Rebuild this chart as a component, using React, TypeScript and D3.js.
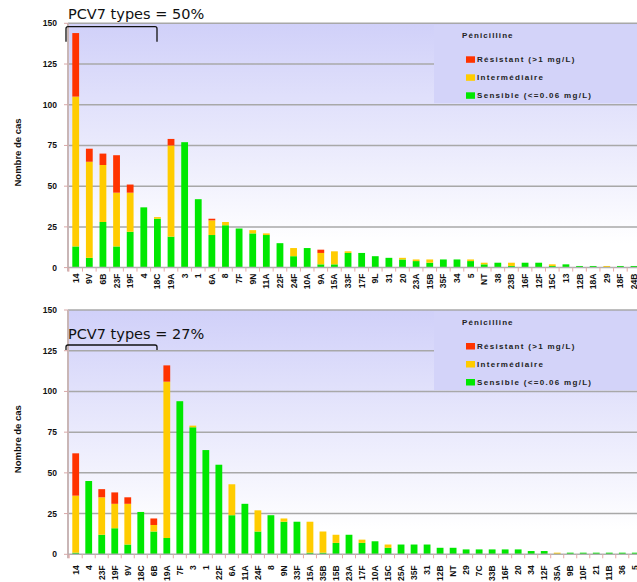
import * as d3 from 'd3';

// serotypes, 1st period
const topCats = ['14', '9V', '6B', '23F', '19F', '4', '18C', '19A', '3', '1', '6A', '8', '7F', '9N', '11A', '22F', '24F', '10A', '9A', '15A', '33F', '17F', '9L', '31', '20', '23A', '15B', '35F', '34', '5', 'NT', '38', '23B', '16F', '12F', '15C', '13', '12B', '18A', '29', '18F', '24B'];
const topSens = [13, 6, 28, 13, 22, 37, 30, 19, 77, 42, 20, 26, 24, 21, 20, 15, 7, 12, 2, 2, 9, 9, 7, 6, 5, 4, 3, 5, 5, 4, 2, 3, 1, 3, 3, 1, 2, 1, 1, 0, 1, 1];
const topInter = [92, 59, 35, 33, 24, 0, 1, 56, 0, 0, 9, 2, 0, 2, 1, 0, 5, 0, 7, 8, 1, 0, 0, 0, 1, 1, 2, 0, 0, 1, 1, 0, 2, 0, 0, 1, 0, 0, 0, 1, 0, 0];
const topRes = [39, 8, 7, 23, 5, 0, 0, 4, 0, 0, 1, 0, 0, 0, 0, 0, 0, 0, 2, 0, 0, 0, 0, 0, 0, 0, 0, 0, 0, 0, 0, 0, 0, 0, 0, 0, 0, 0, 0, 0, 0, 0];

// serotypes, 2nd period
const botCats = ['14', '4', '23F', '19F', '9V', '18C', '6B', '19A', '7F', '3', '1', '22F', '6A', '11A', '24F', '8', '9N', '33F', '15A', '35B', '15B', '23A', '17F', '10A', '15C', '25A', '35F', '31', '12B', 'NT', '29', '7C', '33B', '16F', '20', '34', '12F', '35A', '9B', '10F', '21', '11B', '36', '5'];
const botSens = [1, 45, 12, 16, 6, 26, 14, 10, 94, 78, 64, 55, 24, 31, 14, 24, 20, 20, 1, 1, 7, 12, 7, 8, 4, 6, 6, 6, 4, 4, 3, 3, 3, 3, 3, 2, 2, 0, 1, 1, 1, 1, 1, 1];
const botInter = [35, 0, 23, 15, 25, 0, 4, 96, 0, 1, 0, 0, 19, 0, 13, 0, 2, 0, 19, 13, 5, 0, 2, 0, 2, 0, 0, 0, 0, 0, 0, 0, 0, 0, 0, 0, 0, 1, 0, 0, 0, 0, 0, 0];
const botRes = [26, 0, 5, 7, 4, 0, 4, 10, 0, 0, 0, 0, 0, 0, 0, 0, 0, 0, 0, 0, 0, 0, 0, 0, 0, 0, 0, 0, 0, 0, 0, 0, 0, 0, 0, 0, 0, 0, 0, 0, 0, 0, 0, 0];

const yTicks = [0, 25, 50, 75, 100, 125, 150];
const keys = ['S', 'I', 'R'];
const colors: Record<string, string> = { S: '#00e800', I: '#ffcc00', R: '#ff3300' };
const legendTitle = 'Pénicilline';
const legendItems = [
  { key: 'R', label: 'Résistant (>1 mg/L)' },
  { key: 'I', label: 'Intermédiaire' },
  { key: 'S', label: 'Sensible (<=0.06 mg/L)' },
];

const sans = '"Liberation Sans", Arial, sans-serif';

interface PanelProps {
  id: string;
  cats: string[];
  sens: number[];
  inter: number[];
  res: number[];
  top: number;
  bottom: number;
  xRange: [number, number];
  title: string;
  titleY: number;
  bracketY: number;
  bracketDrop: number;
  labelGap: number;
}

function Panel(p: PanelProps) {
  const left = 68;
  const right = 637;
  const x = d3.scalePoint<string>().domain(p.cats).range(p.xRange);
  const y = d3.scaleLinear().domain([0, 150]).range([p.bottom, p.top]);
  const rows = p.cats.map((c, i) => ({ cat: c, S: p.sens[i], I: p.inter[i], R: p.res[i] }));
  const series = d3.stack<any>().keys(keys)(rows);
  const bw = 6.8;
  const step = x.step();
  const gradId = 'bg-' + p.id;

  return (
    <g>
      <defs>
        <linearGradient id={gradId} x1="0" y1="0" x2="0" y2="1">
          <stop offset="0" stopColor="#d0d0f9" />
          <stop offset="0.9" stopColor="#ffffff" />
          <stop offset="1" stopColor="#ffffff" />
        </linearGradient>
      </defs>
      <rect x={left} y={p.top} width={right - left} height={p.bottom - p.top} fill={`url(#${gradId})`} />
      {yTicks.filter(t => t > 0).map(t => (
        <line key={t} x1={left} x2={right} y1={y(t)} y2={y(t)} stroke="#a8a8a8" strokeWidth={1.5} />
      ))}
      {/* legend box hides part of the 125 grid line */}
      <rect x={434} y={y(150) + 1.5} width={right - 434} height={y(100) - y(150) - 3} fill="#d3d3f9" />
      <text x={462} y={p.top + 15} fontFamily={sans} fontWeight="bold" fontSize={8} letterSpacing={1.1} fill="#222">{legendTitle}</text>
      {legendItems.map((d, i) => (
        <g key={d.key} transform={`translate(466,${p.top + 36 + i * 18})`}>
          <rect x={0} y={-3} width={9} height={6.5} fill={colors[d.key]} />
          <text x={11} y={3} fontFamily={sans} fontWeight="bold" fontSize={8} letterSpacing={1.3} fill="#222">{d.label}</text>
        </g>
      ))}
      {/* bars */}
      {series.map(s => (
        <g key={s.key} fill={colors[s.key]}>
          {s.map((d, i) => (
            d[1] > d[0] ? (
              <rect key={i} x={(x(p.cats[i]) as number) - bw / 2} y={y(d[1])} width={bw} height={y(d[0]) - y(d[1])} />
            ) : null
          ))}
        </g>
      ))}
      {/* axes */}
      <line x1={left} x2={left} y1={p.top} y2={p.bottom + 4} stroke="#c9b6b6" strokeWidth={2} />
      <line x1={left} x2={right} y1={p.bottom} y2={p.bottom} stroke="#b0b0b0" strokeWidth={1.5} />
      {yTicks.map(t => (
        <g key={t}>
          <line x1={left - 4} x2={left} y1={y(t)} y2={y(t)} stroke="#d8a8a8" />
          <text x={57} y={y(t) + 3} textAnchor="end" fontFamily={sans} fontWeight="bold" fontSize={8.5} fill="#111">{t}</text>
        </g>
      ))}
      {p.cats.map((c, i) => (
        <g key={c}>
          <line x1={(x(c) as number) - step / 2} x2={(x(c) as number) - step / 2} y1={p.bottom} y2={p.bottom + 4} stroke="#e8a8a8" />
          <text transform={`translate(${(x(c) as number) + 3},${p.bottom + p.labelGap}) rotate(-90)`} textAnchor="end" fontFamily={sans} fontWeight="bold" fontSize={8.5} fill="#111">{c}</text>
        </g>
      ))}
      <text transform={`translate(21,${(p.top + p.bottom) / 2 + 7}) rotate(-90)`} textAnchor="middle" fontFamily={sans} fontWeight="bold" fontSize={9.5} fill="#111">Nombre de cas</text>
      {/* PCV7 annotation */}
      <text x={68} y={p.titleY} fontFamily='"DejaVu Sans", Verdana, sans-serif' fontSize={14.5} fill="#111">{p.title}</text>
      <path
        d={`M66,${p.bracketY + p.bracketDrop} L66,${p.bracketY + 2} Q66,${p.bracketY} 68,${p.bracketY} L155,${p.bracketY} Q157,${p.bracketY} 157,${p.bracketY + 2} L157,${p.bracketY + p.bracketDrop}`}
        fill="none"
        stroke="#111"
        strokeWidth={1.3}
      />
    </g>
  );
}

export default function App() {
  return (
    <div style={{ position: 'absolute', left: 0, top: 0 }}>
      <svg width={637} height={582} style={{ display: 'block', background: '#fff' }}>
        <Panel
          id="a"
          cats={topCats}
          sens={topSens}
          inter={topInter}
          res={topRes}
          top={23.3}
          bottom={267.6}
          xRange={[75.7, 634]}
          title="PCV7 types = 50%"
          titleY={19}
          bracketY={26.7}
          bracketDrop={15}
          labelGap={6}
        />
        <Panel
          id="b"
          cats={botCats}
          sens={botSens}
          inter={botInter}
          res={botRes}
          top={310}
          bottom={554.3}
          xRange={[75.7, 635.3]}
          title="PCV7 types = 27%"
          titleY={339}
          bracketY={345}
          bracketDrop={5}
          labelGap={11}
        />
      </svg>
    </div>
  );
}
